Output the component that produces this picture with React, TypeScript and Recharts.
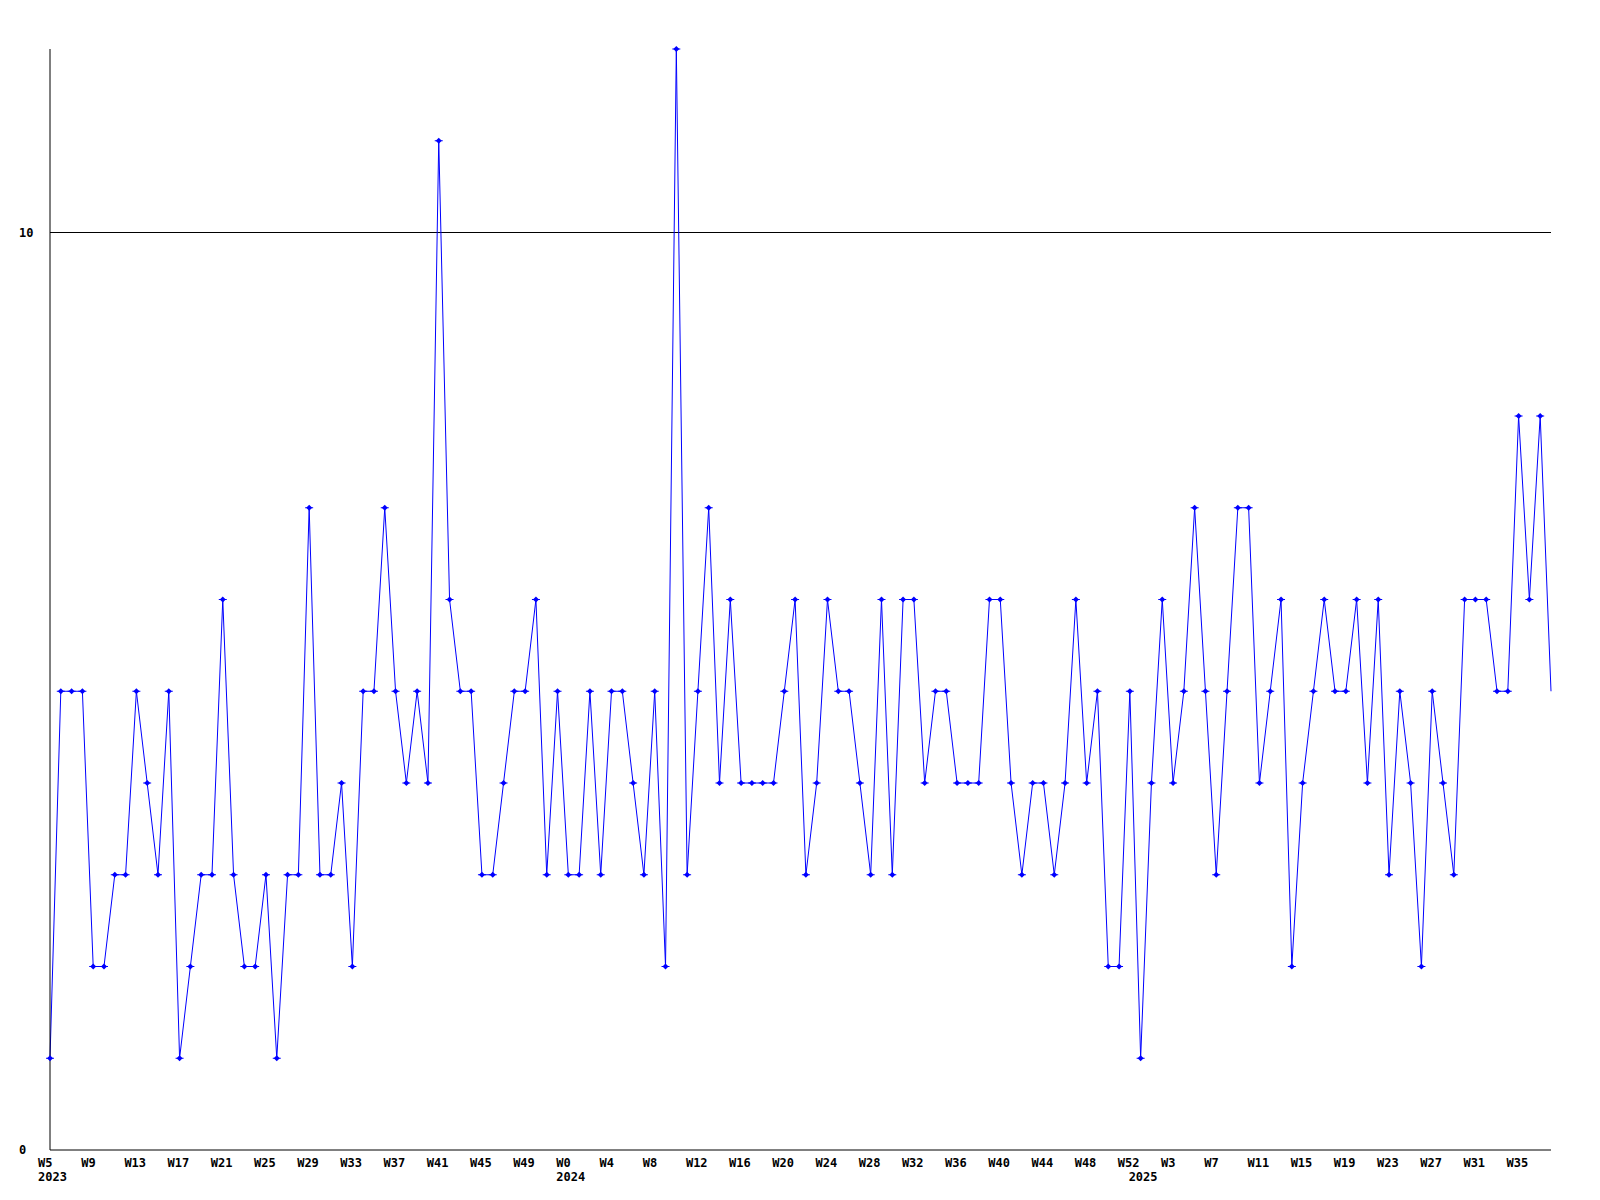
import { LineChart, Line, XAxis, YAxis, ReferenceLine } from "recharts";

// weekly counts, one per week from 2023 W5 to 2025 W38
const values = [
  1, 5, 5, 5, 2, 2, 3, 3, 5, 4,
  3, 5, 1, 2, 3, 3, 6, 3, 2, 2,
  3, 1, 3, 3, 7, 3, 3, 4, 2, 5,
  5, 7, 5, 4, 5, 4, 11, 6, 5, 5,
  3, 3, 4, 5, 5, 6, 3, 5, 3, 3,
  5, 3, 5, 5, 4, 3, 5, 2, 12, 3,
  5, 7, 4, 6, 4, 4, 4, 4, 5, 6,
  3, 4, 6, 5, 5, 4, 3, 6, 3, 6,
  6, 4, 5, 5, 4, 4, 4, 6, 6, 4,
  3, 4, 4, 3, 4, 6, 4, 5, 2, 2,
  5, 1, 4, 6, 4, 5, 7, 5, 3, 5,
  7, 7, 4, 5, 6, 2, 4, 5, 6, 5,
  5, 6, 4, 6, 3, 5, 4, 2, 5, 4,
  3, 6, 6, 6, 5, 5, 8, 6, 8, 5,
];

const years = ["2023", "2024", "2025"];
const firstWeeks = [5, 0, 0];
const lastWeeks = [52, 52, 38];
const yTicks = [0, 10];

const weekLabels: string[] = [];
const yearStarts: number[] = [];
years.forEach((_, k) => {
  yearStarts.push(weekLabels.length);
  for (let w = firstWeeks[k]; w <= lastWeeks[k]; w++) weekLabels.push(`W${w}`);
});

const data = values.map((v, i) => ({ i, v }));
const weekTicks = data.filter((d) => d.i % 4 === 0).map((d) => d.i);
const last = data.length - 1;

const font = { fontFamily: "'DejaVu Sans Mono', monospace", fontWeight: 700, fontSize: 12, fill: "#000" };
const blue = "#0000ff";

// labels are left-aligned a little before their week, like the original plot
const WeekTick = ({ x, y, payload }: any) => (
  <text x={x - 12} y={y} dy="0.71em" textAnchor="start" style={font}>{weekLabels[payload.value]}</text>
);
const YearTick = ({ x, y, payload }: any) => (
  <text x={x - 12} y={y} dy="0.71em" textAnchor="start" style={font}>{years[yearStarts.indexOf(payload.value)]}</text>
);
const ValueTick = ({ y, payload }: any) => (
  <text x={19} y={y} dy="0.355em" textAnchor="start" style={font}>{payload.value}</text>
);

const Marker = (props: any) => {
  const { cx, cy, index } = props;
  if (index === last || cx == null) return <g key={index} />;
  return (
    <g key={index}>
      <path d={`M${cx - 3},${cy} L${cx},${cy - 3} L${cx + 3},${cy} L${cx},${cy + 3} Z`} fill={blue} />
      <path d={`M${cx - 4},${cy} H${cx + 4}`} stroke={blue} strokeWidth={1} />
    </g>
  );
};

export default function App() {
  return (
    <div style={{ position: "absolute", left: 0, top: 0, background: "#fff" }}>
      <LineChart width={1600} height={1200} data={data} margin={{ top: 49, right: 49, left: 0, bottom: 0 }}>
        <XAxis
          dataKey="i" type="number" domain={[0, last]} ticks={weekTicks} interval={0}
          tick={<WeekTick />} tickLine={false}
          axisLine={{ stroke: "#000", strokeWidth: 1 }} height={22} allowDecimals={false}
        />
        <XAxis
          xAxisId="year" dataKey="i" type="number" domain={[0, last]} ticks={yearStarts} interval={0}
          tick={<YearTick />} tickLine={false}
          axisLine={false} tickSize={0} tickMargin={0} height={28}
        />
        <YAxis
          domain={[0, 12]} ticks={yTicks} interval={0} tick={<ValueTick />} tickLine={false}
          axisLine={{ stroke: "#000", strokeWidth: 1 }} width={50}
        />
        <ReferenceLine y={10} stroke="#000" strokeWidth={1} />
        <Line
          dataKey="v" stroke={blue} strokeWidth={1} dot={<Marker />} activeDot={false}
          isAnimationActive={false} type="linear"
        />
      </LineChart>
    </div>
  );
}
